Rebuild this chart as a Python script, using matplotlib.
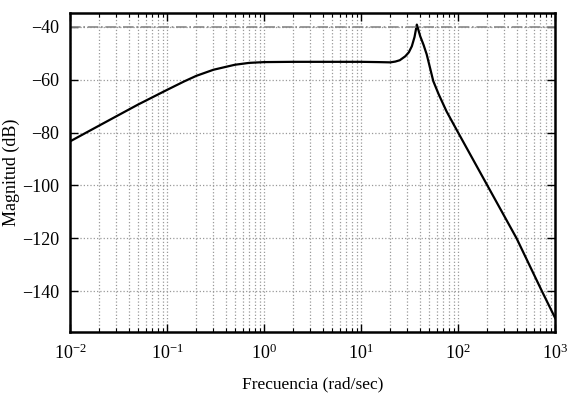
import numpy as np
import matplotlib
matplotlib.use("Agg")
import matplotlib.pyplot as plt
from matplotlib.ticker import LogLocator, NullFormatter

plt.rcParams['font.family'] = ['Liberation Serif', 'DejaVu Serif']
plt.rcParams['mathtext.fontset'] = 'stix'

# Datos (frecuencia en rad/s, magnitud en dB)
frecuencia = [0.01, 0.02, 0.03, 0.05, 0.1, 0.15, 0.2, 0.3, 0.5, 0.7, 1, 2, 5,
              10, 15, 20, 22.5, 25, 28.5, 31, 33.3, 35.5, 37.5, 40.6, 43.9,
              47.4, 51.3, 55.4, 63, 76, 100, 200, 400, 730, 1000]
magnitud = [-83.3, -77.3, -73.8, -69.4, -63.8, -60.6, -58.5, -56.2, -54.3,
            -53.6, -53.3, -53.2, -53.2, -53.2, -53.3, -53.4, -53.1, -52.6,
            -51.1, -49.6, -47.3, -43.8, -39.1, -43.5, -46.7, -50.4, -55.5,
            -60.5, -65.5, -72.0, -80.0, -100.0, -120.0, -140.0, -150.2]
nivel_ref = -40

fig = plt.figure(figsize=(5.7, 4.05), dpi=100)
ax = fig.add_axes([0.123, 0.18, 0.851, 0.788])

ax.semilogx(frecuencia, magnitud, color="black", linewidth=1.6)
ax.axhline(nivel_ref, color="#888888", linestyle="-.", linewidth=1.2)

ax.set_xlim(1e-2, 1e3)
ax.set_ylim(-155.5, -34.7)
ax.set_yticks([-140, -120, -100, -80, -60, -40])
ax.xaxis.set_major_locator(LogLocator(base=10, numticks=10))
ax.xaxis.set_minor_locator(LogLocator(base=10, subs=np.arange(2, 10), numticks=20))
ax.xaxis.set_minor_formatter(NullFormatter())

ax.grid(True, which="major", color="#999999", linestyle=":", linewidth=0.9)
ax.grid(True, which="minor", axis="x", color="#999999", linestyle=":", linewidth=0.9)

ax.tick_params(which="both", direction="in", top=True, right=True, labelsize=13,
               colors="black")
ax.tick_params(which="major", length=6, width=1.0, pad=8)
ax.tick_params(which="minor", length=3, width=0.8)
for sp in ax.spines.values():
    sp.set_linewidth(1.8)

ax.set_xlabel("Frecuencia (rad/sec)", fontsize=12.5, labelpad=10)
ax.set_ylabel("Magnitud (dB)", fontsize=13, labelpad=1)

fig.savefig("out.png", dpi=100)
